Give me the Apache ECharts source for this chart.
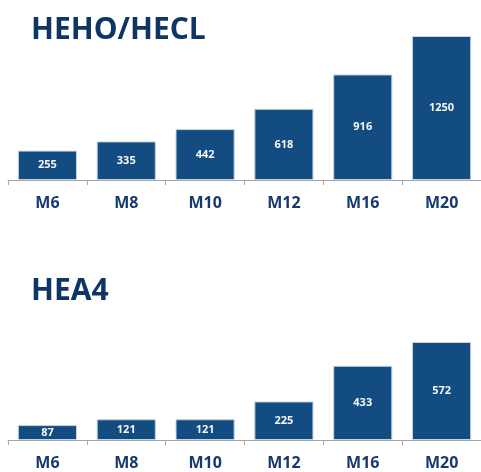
<!DOCTYPE html>
<html>
<head>
<meta charset="utf-8">
<script src="https://cdn.jsdelivr.net/npm/echarts@6/dist/echarts.min.js"></script>
<style>html,body{margin:0;padding:0;background:#fff}#c{width:481px;height:472px}</style>
</head>
<body>
<div id="c"></div>
<script>
var categories = ['M6', 'M8', 'M10', 'M12', 'M16', 'M20'];
var hehoValues = [255, 335, 442, 618, 916, 1250];
var hea4Values = [87, 121, 121, 225, 433, 572];
var titleTop = 'HEHO/HECL';
var titleBottom = 'HEA4';

var barColor = '#134c80';
var font = '"Open Sans", sans-serif';

function xAxis(gi) {
  return {
    type: 'category', gridIndex: gi, data: categories,
    axisLine: {show: true, lineStyle: {color: '#a6a6a6', width: 1}},
    axisTick: {show: true, length: 5, lineStyle: {color: '#a6a6a6'}},
    axisLabel: {color: '#163a6c', fontSize: 16, fontWeight: 'bold', fontFamily: font, margin: 15}
  };
}
function yAxis(gi, max) {
  return {type: 'value', gridIndex: gi, min: 0, max: max, show: false, splitLine: {show: false}};
}
function series(gi, data) {
  return {
    type: 'bar', xAxisIndex: gi, yAxisIndex: gi, data: data,
    barCategoryGap: '25%',
    itemStyle: {color: barColor, borderColor: '#c5d3e2', borderWidth: 1},
    label: {show: true, position: 'inside', color: '#f4f6f8', fontSize: 11, fontWeight: 'bold', fontFamily: font},
    animation: false
  };
}

var chart = echarts.init(document.getElementById('c'), null, {renderer: 'canvas'});
chart.setOption({
  animation: false,
  title: [
    {text: titleTop, left: 26, top: 10, textStyle: {color: '#0e3566', fontSize: 30, fontWeight: 'bold', fontFamily: font}},
    {text: titleBottom, left: 26, top: 271, textStyle: {color: '#0e3566', fontSize: 30, fontWeight: 'bold', fontFamily: font}}
  ],
  grid: [
    {left: 8, right: -4, top: 36, bottom: 292},
    {left: 8, right: -4, top: 342, bottom: 32}
  ],
  xAxis: [xAxis(0), xAxis(1)],
  yAxis: [yAxis(0, 1250), yAxis(1, 572)],
  series: [series(0, hehoValues), series(1, hea4Values)]
});
</script>
</body>
</html>
